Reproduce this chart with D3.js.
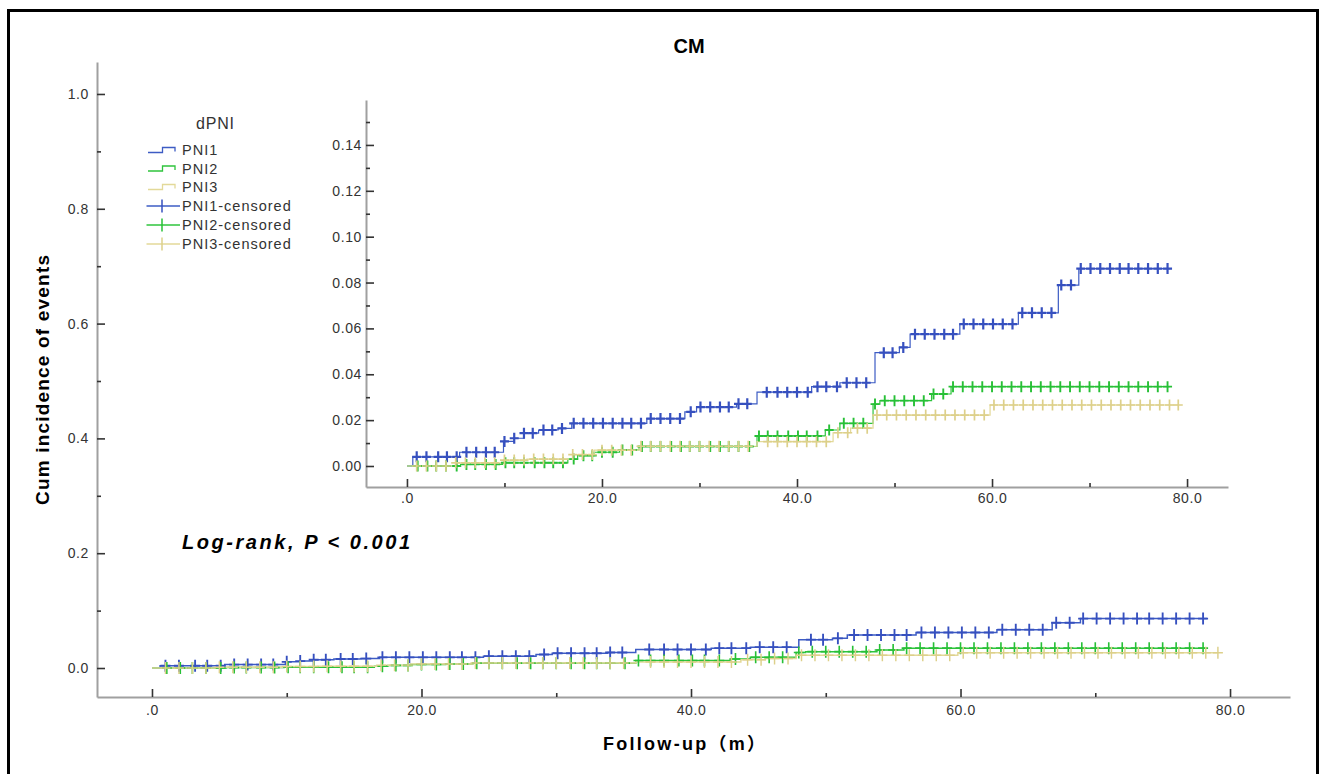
<!DOCTYPE html>
<html>
<head>
<meta charset="utf-8">
<script src="https://cdn.jsdelivr.net/npm/d3@7"></script>
<style>
  html, body { margin: 0; padding: 0; background: #fff; }
  svg { display: block; font-family: "Liberation Sans", Arial, sans-serif; }
</style>
</head>
<body>
<svg id="chart" width="1322" height="774"></svg>
<script>
// ---------------- DATA ----------------
const groupNames = ["PNI1", "PNI2", "PNI3"];
const legendTitle = "dPNI";
const legendLabels = ["PNI1", "PNI2", "PNI3", "PNI1-censored", "PNI2-censored", "PNI3-censored"];
const chartTitle = "CM";
const yAxisTitle = "Cum incidence of events";
const xAxisTitle = "Follow-up（m）";
const annotation = "Log-rank, P < 0.001";

// step functions: times where cumulative incidence changes, and the value from that time on
const pni1StepTimes  = [0, 0.6, 5.4, 9.9, 11.0, 12.0, 13.5, 15.5, 16.9, 24.6, 28.5, 29.7, 33.8, 35.9, 41.5, 44.4, 48.0, 50.5, 51.6, 56.7, 62.7, 66.8, 68.9, 78.3];
const pni1StepValues = [0, 0.0040, 0.0060, 0.0107, 0.0121, 0.0143, 0.0157, 0.0164, 0.0186, 0.0207, 0.0236, 0.0257, 0.0271, 0.0322, 0.0346, 0.0363, 0.0494, 0.0517, 0.0575, 0.0619, 0.0668, 0.0789, 0.0861, 0.0861];

const pni2StepTimes  = [0, 5.5, 9.8, 16.5, 17.5, 19.2, 21.8, 23.8, 35.9, 42.9, 44.4, 47.8, 48.5, 53.8, 55.8, 78.2];
const pni2StepValues = [0, 0.0007, 0.0014, 0.0030, 0.0045, 0.0060, 0.0070, 0.0085, 0.0131, 0.0157, 0.0186, 0.0270, 0.0285, 0.0314, 0.0346, 0.0346];

const pni3StepTimes  = [0, 5.0, 9.9, 12.3, 17.0, 19.2, 23.8, 35.9, 43.7, 45.5, 47.8, 59.8, 79.1];
const pni3StepValues = [0, 0.0014, 0.0026, 0.0030, 0.0050, 0.0069, 0.0086, 0.0106, 0.0145, 0.0165, 0.0222, 0.0266, 0.0266];

// censoring times
const pni1Censor = [1.0, 2.0, 3.2, 4.1, 5.1, 6.1, 7.1, 8.1, 9.0, 10.0, 11.0, 12.0, 12.9, 14.0, 14.9, 15.9, 17.1, 18.1, 19.1, 20.1, 21.1, 22.1, 23.0, 24.0, 25.0, 26.0, 27.0, 28.0, 29.1, 30.1, 31.1, 32.1, 33.0, 34.0, 34.9, 36.9, 38.0, 39.0, 40.0, 41.1, 42.1, 43.0, 44.1, 45.1, 46.1, 47.1, 48.9, 49.8, 50.9, 52.1, 53.1, 54.1, 55.1, 56.0, 57.1, 58.1, 59.1, 60.1, 61.1, 62.1, 63.1, 64.1, 65.1, 66.1, 67.1, 68.1, 69.1, 70.1, 71.1, 72.1, 73.1, 74.0, 75.0, 76.0, 77.0, 78.0];
const pni2Censor = [1.1, 2.1, 3.0, 4.0, 5.1, 6.1, 7.0, 8.1, 9.1, 10.1, 11.0, 12.0, 13.1, 14.1, 15.0, 16.0, 17.1, 18.1, 19.0, 20.0, 21.1, 22.1, 23.1, 24.1, 25.0, 26.0, 27.1, 28.1, 29.0, 30.0, 31.1, 32.1, 33.0, 34.0, 35.1, 36.1, 37.0, 38.0, 39.1, 40.1, 41.0, 42.1, 43.3, 44.8, 45.8, 46.8, 48.0, 49.0, 50.0, 51.0, 52.0, 53.0, 54.0, 55.0, 56.0, 57.0, 58.0, 59.0, 60.0, 61.0, 62.0, 63.0, 64.0, 65.0, 66.0, 67.0, 68.0, 69.0, 70.0, 71.0, 72.0, 73.0, 74.0, 75.0, 76.0, 77.0, 78.0];
const pni3Censor = [1.0, 2.0, 3.0, 4.0, 5.0, 6.0, 7.0, 8.0, 9.0, 10.0, 11.0, 12.0, 13.0, 14.0, 15.0, 16.0, 17.0, 18.0, 19.0, 20.0, 21.0, 22.0, 23.0, 24.0, 25.0, 26.0, 27.0, 28.0, 29.0, 30.0, 31.0, 32.0, 33.0, 34.0, 35.0, 37.0, 38.0, 39.0, 40.0, 41.0, 42.0, 43.0, 44.2, 45.2, 46.2, 47.2, 48.2, 49.2, 50.2, 51.2, 52.2, 53.2, 54.2, 55.2, 56.2, 57.2, 58.2, 59.2, 60.2, 61.2, 62.2, 63.2, 64.2, 65.2, 66.2, 67.2, 68.2, 69.2, 70.2, 71.2, 72.2, 73.2, 74.2, 75.2, 76.2, 77.2, 78.2, 79.1];

// axis ticks
const mainYTicks = [0, 0.2, 0.4, 0.6, 0.8, 1.0];
const mainYMinor = [0.1, 0.3, 0.5, 0.7, 0.9];
const xTicks = [0, 20, 40, 60, 80];
const xMinor = [10, 30, 50, 70];
const insetYTicks = [0, 0.02, 0.04, 0.06, 0.08, 0.10, 0.12, 0.14];
const insetYMinor = [0.01, 0.03, 0.05, 0.07, 0.09, 0.11, 0.13, 0.15];

// ---------------- STYLE ----------------
const colors = { PNI1: "#3d5cc4", PNI2: "#2fc43d", PNI3: "#e3d999" };
const markColors = { PNI1: "#3650bf", PNI2: "#27c036", PNI3: "#ddd08a" };
const markWidths = { PNI1: 2.2, PNI2: 1.9, PNI3: 1.7 };
const axisGray = "#a0a0a0";
const tickDark = "#333";
const labelGray = "#333";

const series = [
  { name: "PNI1", times: pni1StepTimes, values: pni1StepValues, censor: pni1Censor },
  { name: "PNI2", times: pni2StepTimes, values: pni2StepValues, censor: pni2Censor },
  { name: "PNI3", times: pni3StepTimes, values: pni3StepValues, censor: pni3Censor }
];

const svg = d3.select("#chart");

// frame
svg.append("rect").attr("x", 8.5).attr("y", 10.5).attr("width", 1309).attr("height", 820)
  .attr("fill", "none").attr("stroke", "#000").attr("stroke-width", 3);

function xFmt(d) { return d === 0 ? ".0" : d3.format(".1f")(d); }

function stepValue(s, t) {
  const i = d3.bisectRight(s.times, t) - 1;
  return s.values[Math.max(0, i)];
}

function drawPanel(g, x, y, opts) {
  const yAx = g.append("g").attr("transform", `translate(${x.range()[0]},0)`)
    .call(d3.axisLeft(y).tickValues(opts.yTicks).tickFormat(opts.yFmt).tickSizeInner(-8).tickSizeOuter(0).tickPadding(opts.yPad));
  const yMin = g.append("g").attr("transform", `translate(${x.range()[0]},0)`)
    .call(d3.axisLeft(y).tickValues(opts.yMinor).tickFormat("").tickSizeInner(-4).tickSizeOuter(0));
  const xAx = g.append("g").attr("transform", `translate(0,${y.range()[0]})`)
    .call(d3.axisBottom(x).tickValues(xTicks).tickFormat(xFmt).tickSizeInner(-8).tickSizeOuter(0).tickPadding(opts.xPad));
  const xMin = g.append("g").attr("transform", `translate(0,${y.range()[0]})`)
    .call(d3.axisBottom(x).tickValues(xMinor).tickFormat("").tickSizeInner(-4).tickSizeOuter(0));
  [yAx, yMin, xAx, xMin].forEach(a => {
    a.select(".domain").attr("stroke", axisGray).attr("stroke-width", 2);
    a.selectAll(".tick line").attr("stroke", tickDark).attr("stroke-width", 1.6);
    a.selectAll(".tick text").attr("fill", labelGray).style("font-size", "14px").style("letter-spacing", "0.6px")
      .style("font-family", '"Liberation Sans", Arial, sans-serif');
  });
  yMin.select(".domain").remove();
  xMin.select(".domain").remove();

  const line = d3.line().x(d => x(d[0])).y(d => y(d[1])).curve(d3.curveStepAfter);
  series.forEach(s => {
    const pts = s.times.map((t, i) => [t, s.values[i]]);
    g.append("path").attr("d", line(pts)).attr("fill", "none")
      .attr("stroke", colors[s.name]).attr("stroke-width", opts.lw);
  });
  series.forEach(s => {
    const mg = g.append("g").attr("stroke", markColors[s.name]).attr("stroke-width", markWidths[s.name] * opts.mwScale).attr("fill", "none");
    mg.selectAll("path").data(s.censor).join("path")
      .attr("d", t => {
        const px = x(t), py = y(stepValue(s, t));
        return `M${px - opts.mh},${py}H${px + opts.mh}M${px},${py - opts.mv}V${py + opts.mv}`;
      });
  });
}

// main panel
const xMain = d3.scaleLinear().domain([-4.08, 84.45]).range([97, 1290]);
const yMain = d3.scaleLinear().domain([-0.0505, 1.0557]).range([697, 62]);
drawPanel(svg.append("g"), xMain, yMain, {
  yTicks: mainYTicks, yMinor: mainYMinor, yFmt: d3.format(".1f"), yPad: 8, xPad: 8,
  lw: 1.5, mwScale: 0.85, mh: 5, mv: 6
});

// inset panel
const xIn = d3.scaleLinear().domain([-4.2, 84.2]).range([366, 1228]);
const yIn = d3.scaleLinear().domain([-0.00916, 0.1596]).range([487, 100]);
drawPanel(svg.append("g"), xIn, yIn, {
  yTicks: insetYTicks, yMinor: insetYMinor, yFmt: d3.format(".2f"), yPad: 4, xPad: 6,
  lw: 1.2, mwScale: 1, mh: 4.5, mv: 5.5
});

// titles
svg.append("text").attr("x", 689).attr("y", 53).attr("text-anchor", "middle")
  .style("font-size", "20px").style("font-weight", "bold").text(chartTitle);
svg.append("text").attr("transform", "translate(49,380) rotate(-90)").attr("text-anchor", "middle")
  .style("font-size", "19px").style("font-weight", "bold").attr("textLength", 250).attr("lengthAdjust", "spacing")
  .text(yAxisTitle);
svg.append("text").attr("x", 684).attr("y", 750).attr("text-anchor", "middle")
  .style("font-size", "18px").style("font-weight", "bold").attr("textLength", 162).attr("lengthAdjust", "spacing")
  .style("font-family", '"Liberation Sans", "Noto Sans CJK SC", Arial, sans-serif')
  .text(xAxisTitle);
svg.append("text").attr("x", 182).attr("y", 549)
  .style("font-size", "20px").style("font-weight", "bold").style("font-style", "italic")
  .attr("textLength", 228).attr("lengthAdjust", "spacing").text(annotation);

// legend
const lg = svg.append("g");
lg.append("text").attr("x", 196).attr("y", 129).attr("fill", labelGray)
  .style("font-size", "16px").style("letter-spacing", "0.8px").text(legendTitle);
const legendY = [150, 168.5, 187, 206, 225, 244];
const legendKeys = ["PNI1", "PNI2", "PNI3", "PNI1", "PNI2", "PNI3"];
legendLabels.forEach((lab, i) => {
  const cy = legendY[i], key = legendKeys[i];
  if (i < 3) {
    lg.append("path").attr("d", `M148,${cy + 2.5}H162.5V${cy - 2.5}H175V${cy + 1.5}`)
      .attr("fill", "none").attr("stroke", colors[key]).attr("stroke-width", 1.3);
  } else {
    lg.append("path").attr("d", `M146.5,${cy}H180`).attr("stroke", colors[key]).attr("stroke-width", 1.3);
    lg.append("path").attr("d", `M162,${cy - 6.5}V${cy + 6.5}`).attr("stroke", markColors[key]).attr("stroke-width", 1.5);
  }
  lg.append("text").attr("x", 182).attr("y", cy + 5).attr("fill", labelGray)
    .style("font-size", "14.5px").style("letter-spacing", "1px").text(lab);
});
</script>
</body>
</html>
